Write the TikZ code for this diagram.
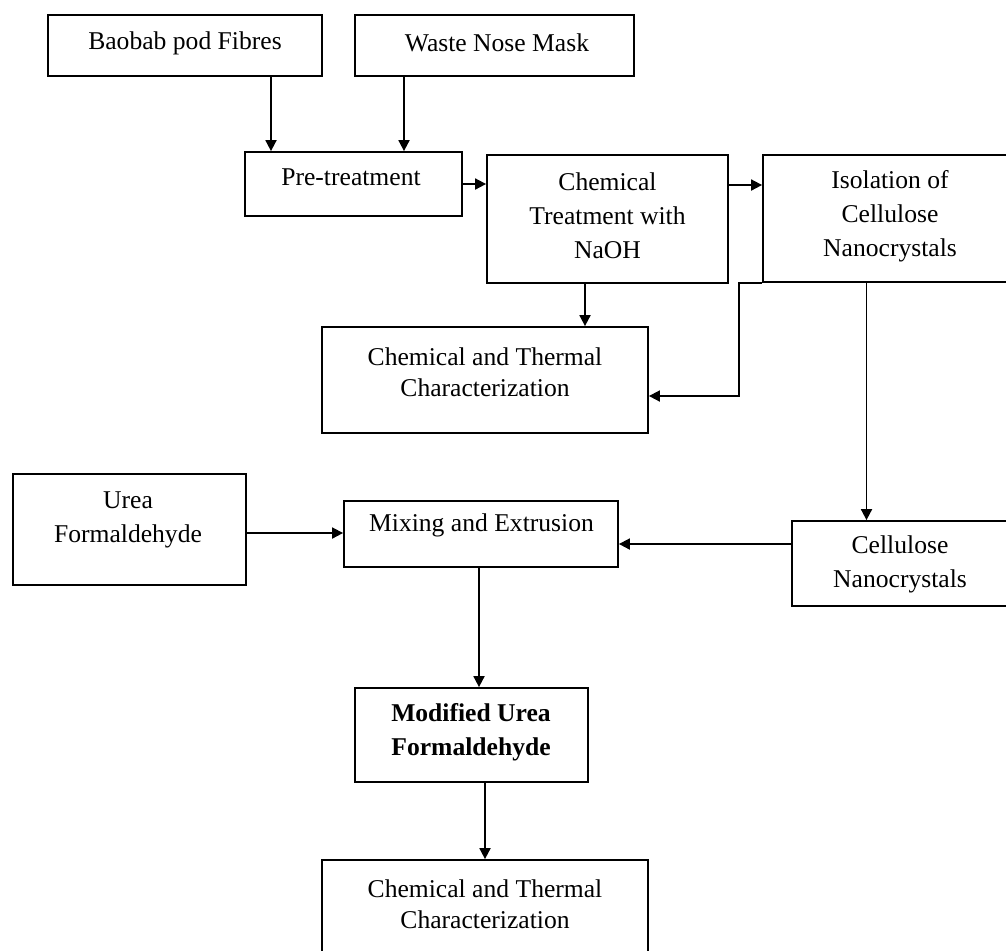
\documentclass[tikz,border=0pt]{standalone}
\usepackage{fontspec}
\setmainfont{Liberation Serif}
\usetikzlibrary{arrows.meta}

\begin{document}
\begin{tikzpicture}[x=0.5pt,y=-0.5pt,
    box/.style={draw, line width=0.9pt, rectangle, inner sep=0pt},
    txt/.style={align=center, inner sep=0pt, font=\fontsize{12.8}{17}\selectfont},
    chartxt/.style={txt, font=\fontsize{12.8}{15.5}\selectfont},
    arr/.style={line width=0.9pt, -{Triangle[length=5.5pt,width=5.5pt]}}]
    \useasboundingbox (0,0) rectangle (1006,950);
    \clip (0,0) rectangle (1006,950);

    % boxes
    \node[box, minimum width=137pt, minimum height=30.5pt] (baobab) at (185,45.5) {};
    \node[box, minimum width=139.5pt, minimum height=30.5pt] (mask) at (494.5,45.5) {};
    \node[box, minimum width=108.5pt, minimum height=32pt] (pre) at (353.5,184) {};
    \node[box, minimum width=120.5pt, minimum height=64pt] (chem) at (607.5,219) {};
    \node[box, minimum width=127pt, minimum height=63.5pt] (iso) at (890,218.5) {};
    \node[box, minimum width=163pt, minimum height=53pt] (char) at (485,380) {};
    \node[box, minimum width=116.5pt, minimum height=55.5pt] (urea) at (129.5,529.5) {};
    \node[box, minimum width=137pt, minimum height=33pt] (mix) at (481,534) {};
    \node[box, minimum width=108pt, minimum height=42.5pt] (cnc) at (900,563.5) {};
    \node[box, minimum width=116.5pt, minimum height=47pt] (mod) at (471.5,735) {};
    \node[box, minimum width=163pt, minimum height=53pt] (chartwo) at (485,913) {};

    % texts
    \node[txt] (baobabT) at (185,43) {Baobab pod Fibres};
    \node[txt] (maskT) at (497,43) {Waste Nose Mask};
    \node[txt] (preT) at (351,177) {Pre-treatment};
    \node[txt] (chemT) at (607.5,216) {Chemical\\Treatment with\\NaOH};
    \node[txt] (isoT) at (890,216) {Isolation of\\Cellulose\\Nanocrystals};
    \node[chartxt] (charT) at (485,372.5) {Chemical and Thermal\\Characterization};
    \node[txt] (ureaT) at (128,520) {Urea\\Formaldehyde};
    \node[txt] (mixT) at (481.5,525) {Mixing and Extrusion};
    \node[txt] (cncT) at (900,564.5) {Cellulose\\Nanocrystals};
    \node[txt, font=\fontsize{12.8}{17}\selectfont\bfseries] (modT) at (471,732) {Modified Urea\\Formaldehyde};
    \node[chartxt] (chartwoT) at (485,904.5) {Chemical and Thermal\\Characterization};

    \draw[arr] ([xshift=43pt]baobab.south) -- ([xshift=43pt]baobab.south |- pre.north);
    \draw[arr] ([xshift=-45.25pt]mask.south) -- ([xshift=-45.25pt]mask.south |- pre.north);
    \draw[arr] (pre.east) -- (pre.east -| chem.west);
    \draw[arr] ([yshift=17pt]chem.east) -- ([yshift=17pt]chem.east -| iso.west);
    \draw[arr] ([xshift=-11.25pt]chem.south) -- ([xshift=-11.25pt]chem.south |- char.north);
    \draw[arr] (iso.south west) -- ++(-11.5pt,0) |- ([yshift=-8pt]char.east);
    \draw[arr] ([xshift=-11.75pt]iso.south) -- ([xshift=-11.75pt]iso.south |- cnc.north);
    \draw[arr] ([yshift=9.75pt]cnc.west) -- ([yshift=9.75pt]cnc.west -| mix.east);
    \draw[arr] ([yshift=-1.75pt]urea.east) -- ([yshift=-1.75pt]urea.east -| mix.west);
    \draw[arr] ([xshift=-1pt]mix.south) -- ([xshift=-1pt]mix.south |- mod.north);
    \draw[arr] ([xshift=6.75pt]mod.south) -- ([xshift=6.75pt]mod.south |- chartwo.north);

\end{tikzpicture}
\end{document}
